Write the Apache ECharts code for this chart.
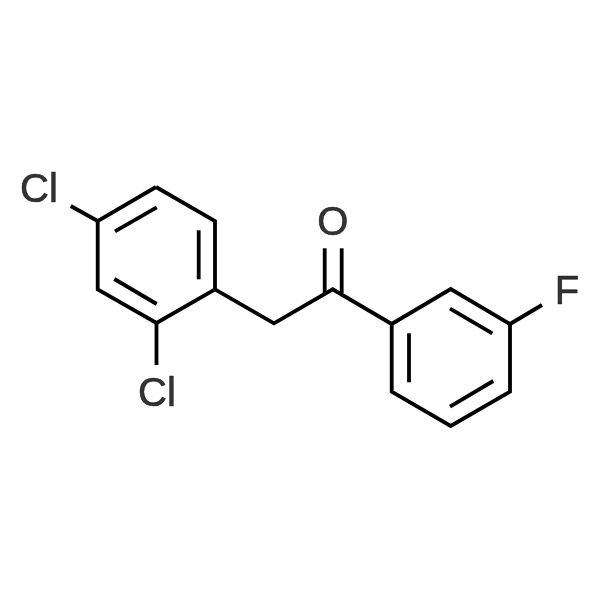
<!DOCTYPE html>
<html>
<head>
<meta charset="utf-8">
<style>html,body{margin:0;padding:0;background:#fff}#c{width:600px;height:600px}</style>
<script src="https://cdn.jsdelivr.net/npm/echarts@6/dist/echarts.min.js"></script>
</head>
<body>
<div id="c"></div>
<script>
var leftRing = [[156,187],[215,221],[215,289.3],[156.5,323],[97.7,289.3],[97.7,221],[156,187]];
var rightRing = [[391.7,324],[450.7,289],[510,324],[510,391.7],[450.7,426],[391.7,391.7],[391.7,324]];
var chain = [[215,289.3],[274,323.3],[332.7,289.3],[391.7,324]];
var bondCl4 = [[70.7,206],[97.7,221]];
var bondCl2 = [[156.5,323],[156.5,365]];
var bondF = [[510,324],[542,305]];
var carbonylA = [[324.7,248.3],[324.7,293]];
var carbonylB = [[341.7,248.3],[341.7,293]];
var innerBonds = [
  [[156.7,207.3],[115,231.3]],
  [[198.7,230.3],[198.7,279.3]],
  [[114.3,279],[156.7,304]],
  [[409,333.3],[409,382.3]],
  [[450,308.7],[492.3,333.3]],
  [[450,406.7],[493.3,381]]
];
var atomLabels = [
  {name:'Cl', value:[39,191]},
  {name:'Cl', value:[157,395]},
  {name:'O', value:[332.7,224]},
  {name:'F', value:[567,293]}
];

var polylines = [leftRing, rightRing, chain, bondCl4, bondCl2, bondF, carbonylA, carbonylB].concat(innerBonds);
var series = polylines.map(function(pts){
  return {
    type:'line', data:pts, showSymbol:false, symbol:'none', silent:true, animation:false,
    lineStyle:{color:'#000', width:3.8, join:'miter', cap:'butt'}
  };
});
series.push({
  type:'scatter', data:atomLabels, symbolSize:0, silent:true, animation:false,
  label:{show:true, position:'inside', formatter:'{b}', color:'#000',
    fontFamily:'Liberation Sans', fontSize:40, align:'center', verticalAlign:'middle',
    textBorderColor:'#000', textBorderWidth:0.6}
});
var chart = echarts.init(document.getElementById('c'), null, {renderer:'canvas'});
chart.setOption({
  backgroundColor:'#fff',
  animation:false,
  grid:{left:0,right:0,top:0,bottom:0},
  xAxis:{type:'value',min:0,max:600,show:false},
  yAxis:{type:'value',min:0,max:600,inverse:true,show:false},
  series:series
});
</script>
</body>
</html>
